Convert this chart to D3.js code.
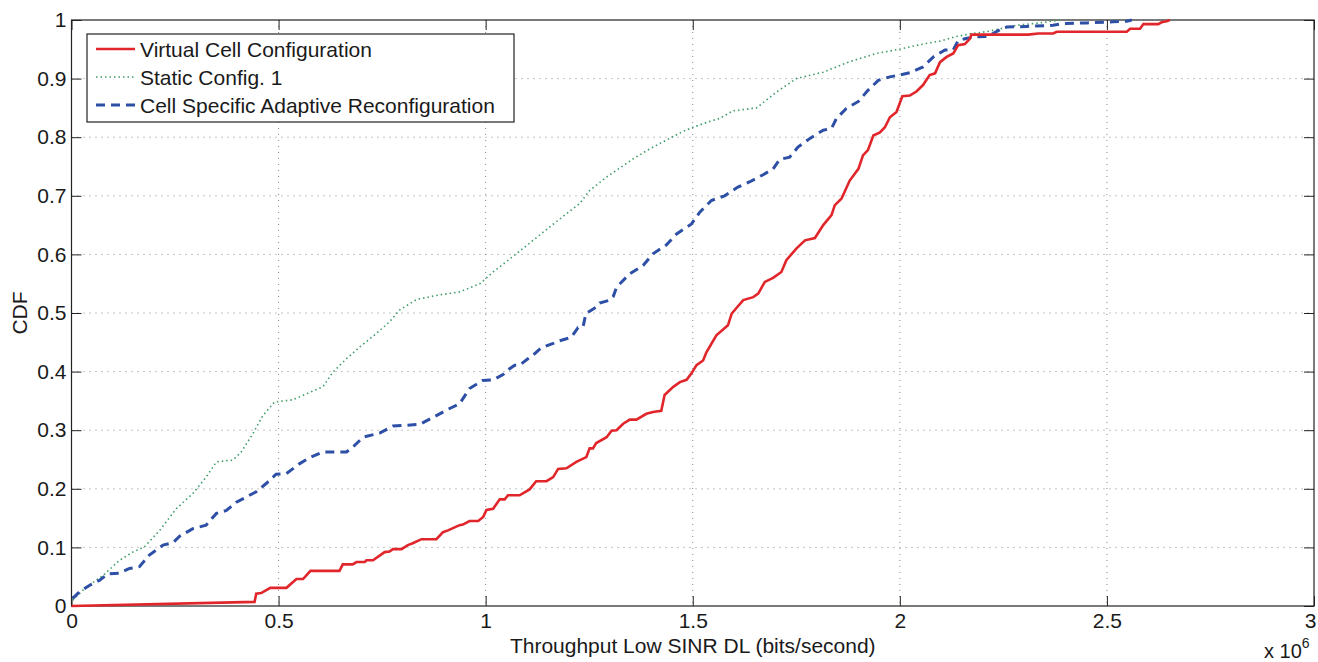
<!DOCTYPE html>
<html>
<head>
<meta charset="utf-8">
<script src="https://cdn.jsdelivr.net/npm/d3@7"></script>
<style>
  body { margin: 0; background: #fff; }
  text { font-family: "Liberation Sans", Arial, sans-serif; fill: #1a1a1a; }
</style>
</head>
<body>
<div class="cdf-plot"></div>
<script>
// series: [throughput (x10^6 bits/s), CDF]
const virtualCell = [[0,0],[0.442,0.007],[0.446,0.021],[0.458,0.022],[0.48,0.031],[0.519,0.031],[0.543,0.046],[0.559,0.046],[0.577,0.06],[0.647,0.06],[0.655,0.071],[0.679,0.071],[0.688,0.075],[0.708,0.075],[0.712,0.078],[0.728,0.078],[0.756,0.092],[0.768,0.093],[0.776,0.097],[0.797,0.097],[0.812,0.104],[0.824,0.107],[0.845,0.114],[0.881,0.114],[0.897,0.126],[0.909,0.129],[0.921,0.133],[0.937,0.138],[0.945,0.139],[0.961,0.145],[0.982,0.145],[0.994,0.152],[1.002,0.164],[1.018,0.166],[1.034,0.182],[1.046,0.182],[1.054,0.189],[1.082,0.189],[1.106,0.199],[1.122,0.213],[1.147,0.213],[1.163,0.22],[1.175,0.234],[1.195,0.235],[1.219,0.246],[1.243,0.254],[1.251,0.269],[1.259,0.269],[1.267,0.278],[1.292,0.288],[1.304,0.299],[1.316,0.3],[1.332,0.311],[1.348,0.318],[1.364,0.318],[1.388,0.328],[1.404,0.331],[1.424,0.333],[1.432,0.36],[1.453,0.374],[1.469,0.382],[1.485,0.386],[1.497,0.397],[1.509,0.411],[1.525,0.419],[1.533,0.433],[1.557,0.462],[1.585,0.479],[1.594,0.499],[1.606,0.509],[1.622,0.522],[1.646,0.527],[1.658,0.533],[1.674,0.553],[1.694,0.56],[1.714,0.57],[1.726,0.59],[1.75,0.61],[1.771,0.624],[1.795,0.628],[1.815,0.65],[1.835,0.667],[1.843,0.684],[1.859,0.695],[1.879,0.726],[1.9,0.746],[1.911,0.769],[1.923,0.778],[1.936,0.803],[1.952,0.808],[1.964,0.817],[1.976,0.834],[1.992,0.843],[2.006,0.87],[2.024,0.871],[2.04,0.878],[2.056,0.889],[2.072,0.906],[2.085,0.909],[2.097,0.928],[2.113,0.937],[2.129,0.943],[2.141,0.957],[2.157,0.959],[2.169,0.968],[2.173,0.975],[2.31,0.975],[2.334,0.977],[2.37,0.977],[2.379,0.98],[2.548,0.98],[2.556,0.985],[2.58,0.985],[2.588,0.993],[2.624,0.993],[2.632,0.996],[2.644,0.998],[2.652,1.0]];

const staticConfig = [[0.003,0.01],[0.035,0.032],[0.076,0.052],[0.116,0.078],[0.148,0.092],[0.176,0.101],[0.213,0.129],[0.253,0.166],[0.293,0.192],[0.325,0.22],[0.35,0.246],[0.39,0.249],[0.41,0.263],[0.438,0.294],[0.462,0.325],[0.49,0.348],[0.535,0.352],[0.567,0.362],[0.607,0.374],[0.631,0.399],[0.664,0.422],[0.696,0.442],[0.736,0.465],[0.768,0.485],[0.792,0.505],[0.833,0.523],[0.881,0.53],[0.937,0.536],[0.986,0.55],[1.018,0.57],[1.054,0.59],[1.074,0.601],[1.155,0.647],[1.227,0.687],[1.251,0.709],[1.292,0.732],[1.356,0.763],[1.396,0.78],[1.436,0.795],[1.477,0.81],[1.501,0.817],[1.541,0.827],[1.565,0.832],[1.597,0.845],[1.654,0.85],[1.702,0.877],[1.75,0.9],[1.815,0.911],[1.879,0.929],[1.944,0.943],[1.998,0.95],[2.056,0.959],[2.097,0.964],[2.137,0.972],[2.177,0.977],[2.217,0.981],[2.242,0.985],[2.282,0.991],[2.338,0.995],[2.387,1.0]];

const cellSpecific = [[0.003,0.013],[0.019,0.024],[0.043,0.035],[0.068,0.044],[0.088,0.055],[0.116,0.056],[0.14,0.064],[0.164,0.067],[0.188,0.087],[0.221,0.104],[0.245,0.108],[0.261,0.119],[0.293,0.132],[0.325,0.138],[0.35,0.158],[0.374,0.163],[0.398,0.177],[0.422,0.186],[0.446,0.195],[0.47,0.209],[0.494,0.225],[0.519,0.226],[0.551,0.243],[0.575,0.253],[0.607,0.263],[0.664,0.263],[0.679,0.271],[0.704,0.288],[0.744,0.295],[0.776,0.307],[0.841,0.31],[0.881,0.325],[0.913,0.337],[0.937,0.345],[0.961,0.371],[0.993,0.385],[1.018,0.386],[1.042,0.395],[1.05,0.401],[1.07,0.411],[1.082,0.411],[1.102,0.422],[1.114,0.428],[1.135,0.441],[1.163,0.448],[1.175,0.452],[1.195,0.456],[1.207,0.459],[1.223,0.475],[1.235,0.476],[1.242,0.499],[1.251,0.503],[1.267,0.51],[1.275,0.517],[1.3,0.522],[1.308,0.528],[1.316,0.544],[1.348,0.567],[1.38,0.581],[1.404,0.601],[1.436,0.616],[1.461,0.635],[1.497,0.652],[1.517,0.672],[1.545,0.692],[1.577,0.7],[1.609,0.715],[1.638,0.724],[1.67,0.736],[1.694,0.746],[1.71,0.762],[1.734,0.766],[1.754,0.783],[1.783,0.798],[1.815,0.812],[1.835,0.815],[1.847,0.832],[1.871,0.849],[1.9,0.861],[1.923,0.88],[1.948,0.897],[1.976,0.903],[1.998,0.906],[2.024,0.91],[2.056,0.92],[2.081,0.937],[2.109,0.949],[2.129,0.949],[2.141,0.965],[2.157,0.968],[2.177,0.971],[2.213,0.972],[2.225,0.977],[2.246,0.985],[2.258,0.988],[2.306,0.989],[2.37,0.991],[2.395,0.994],[2.451,0.995],[2.515,0.997],[2.548,0.998],[2.56,1.0]];

const xTicks = [0, 0.5, 1, 1.5, 2, 2.5, 3];
const yTicks = [0, 0.1, 0.2, 0.3, 0.4, 0.5, 0.6, 0.7, 0.8, 0.9, 1];
const legendNames = ["Virtual Cell Configuration", "Static Config. 1", "Cell Specific Adaptive Reconfiguration"];

const width = 1318;
const height = 662;
const plotLeft = 71.5, plotRight = 1314, plotTop = 20, plotBottom = 606;

const svg = d3.select('.cdf-plot')
    .append('svg')
    .attr('width', width)
    .attr('height', height);

const x = d3.scaleLinear().domain([0, 3]).range([plotLeft, plotRight]);
const y = d3.scaleLinear().domain([0, 1]).range([plotBottom, plotTop]);

// dotted grid
svg.append('g')
    .selectAll('line')
    .data(xTicks.slice(1, -1))
    .enter()
    .append('line')
    .attr('x1', d => x(d)).attr('x2', d => x(d))
    .attr('y1', plotTop).attr('y2', plotBottom)
    .attr('stroke', '#8a8a8a')
    .attr('stroke-width', 1)
    .attr('stroke-dasharray', '1,5');

svg.append('g')
    .selectAll('line')
    .data(yTicks.slice(1, -1))
    .enter()
    .append('line')
    .attr('x1', plotLeft).attr('x2', plotRight)
    .attr('y1', d => y(d)).attr('y2', d => y(d))
    .attr('stroke', '#8a8a8a')
    .attr('stroke-width', 1)
    .attr('stroke-dasharray', '1,5');

// axes, matlab style: ticks point inwards, box on
const tickLen = 10;
svg.append('g')
    .attr('class', 'x-axis')
    .attr('transform', `translate(0,${plotBottom})`)
    .call(d3.axisBottom(x).tickValues(xTicks).tickSize(-tickLen).tickPadding(7).tickFormat(d3.format('')))
    .call(g => g.select('.domain').remove());
svg.append('g')
    .attr('transform', `translate(0,${plotTop})`)
    .call(d3.axisTop(x).tickValues(xTicks).tickSize(-tickLen).tickFormat(''))
    .call(g => g.select('.domain').remove());
svg.append('g')
    .attr('transform', `translate(${plotLeft},0)`)
    .call(d3.axisLeft(y).tickValues(yTicks).tickSize(-tickLen).tickPadding(5).tickFormat(d3.format('')))
    .call(g => g.select('.domain').remove());
svg.append('g')
    .attr('transform', `translate(${plotRight},0)`)
    .call(d3.axisRight(y).tickValues(yTicks).tickSize(-tickLen).tickFormat(''))
    .call(g => g.select('.domain').remove());

svg.selectAll('.tick line').attr('stroke', '#222');
svg.selectAll('.tick text')
    .attr('font-size', 21)
    .attr('font-family', '"Liberation Sans", Arial, sans-serif')
    .attr('fill', '#1a1a1a');
// last label sits at the page edge
svg.selectAll('.x-axis .tick text').filter(d => d === 3).attr('dx', -4);

svg.append('rect')
    .attr('x', plotLeft).attr('y', plotTop)
    .attr('width', plotRight - plotLeft).attr('height', plotBottom - plotTop)
    .attr('fill', 'none')
    .attr('stroke', '#222')
    .attr('stroke-width', 1.2);

// curves
const line = d3.line().x(d => x(d[0])).y(d => y(d[1]));

const series = [
    {data: virtualCell, color: '#e1262b', width: 2.6, dash: null},
    {data: staticConfig, color: '#3e9c66', width: 1.6, dash: '1.5,3'},
    {data: cellSpecific, color: '#2e4fa6', width: 3, dash: '9,6'}
];

svg.selectAll('path.curve')
    .data([series[1], series[2], series[0]])
    .enter()
    .append('path')
    .attr('class', 'curve')
    .attr('d', d => line(d.data))
    .attr('fill', 'none')
    .attr('stroke', d => d.color)
    .attr('stroke-width', d => d.width)
    .attr('stroke-dasharray', d => d.dash);

// legend
const legend = svg.append('g');
legend.append('rect')
    .attr('x', 87).attr('y', 34)
    .attr('width', 427).attr('height', 88)
    .attr('fill', '#fff')
    .attr('stroke', '#222')
    .attr('stroke-width', 1.2);

legend.selectAll('line')
    .data(series)
    .enter()
    .append('line')
    .attr('x1', 96).attr('x2', 135)
    .attr('y1', (d, i) => 49 + i * 28)
    .attr('y2', (d, i) => 49 + i * 28)
    .attr('stroke', d => d.color)
    .attr('stroke-width', d => d.width)
    .attr('stroke-dasharray', d => d.dash);

legend.selectAll('text')
    .data(legendNames)
    .enter()
    .append('text')
    .attr('x', 140)
    .attr('y', (d, i) => 49 + i * 28)
    .attr('dy', '0.36em')
    .attr('font-size', 21)
    .text(d => d);

// axis titles
svg.append('text')
    .attr('x', (plotLeft + plotRight) / 2)
    .attr('y', 653)
    .attr('text-anchor', 'middle')
    .attr('font-size', 21)
    .text('Throughput Low SINR DL (bits/second)');

svg.append('text')
    .attr('transform', `translate(27,${y(0.5)}) rotate(-90)`)
    .attr('text-anchor', 'middle')
    .attr('font-size', 21)
    .text('CDF');

const expo = svg.append('text')
    .attr('x', 1264)
    .attr('y', 658)
    .attr('font-size', 20);
expo.append('tspan').text('x 10');
expo.append('tspan').attr('dy', -10).attr('font-size', 14).text('6');
</script>
</body>
</html>
